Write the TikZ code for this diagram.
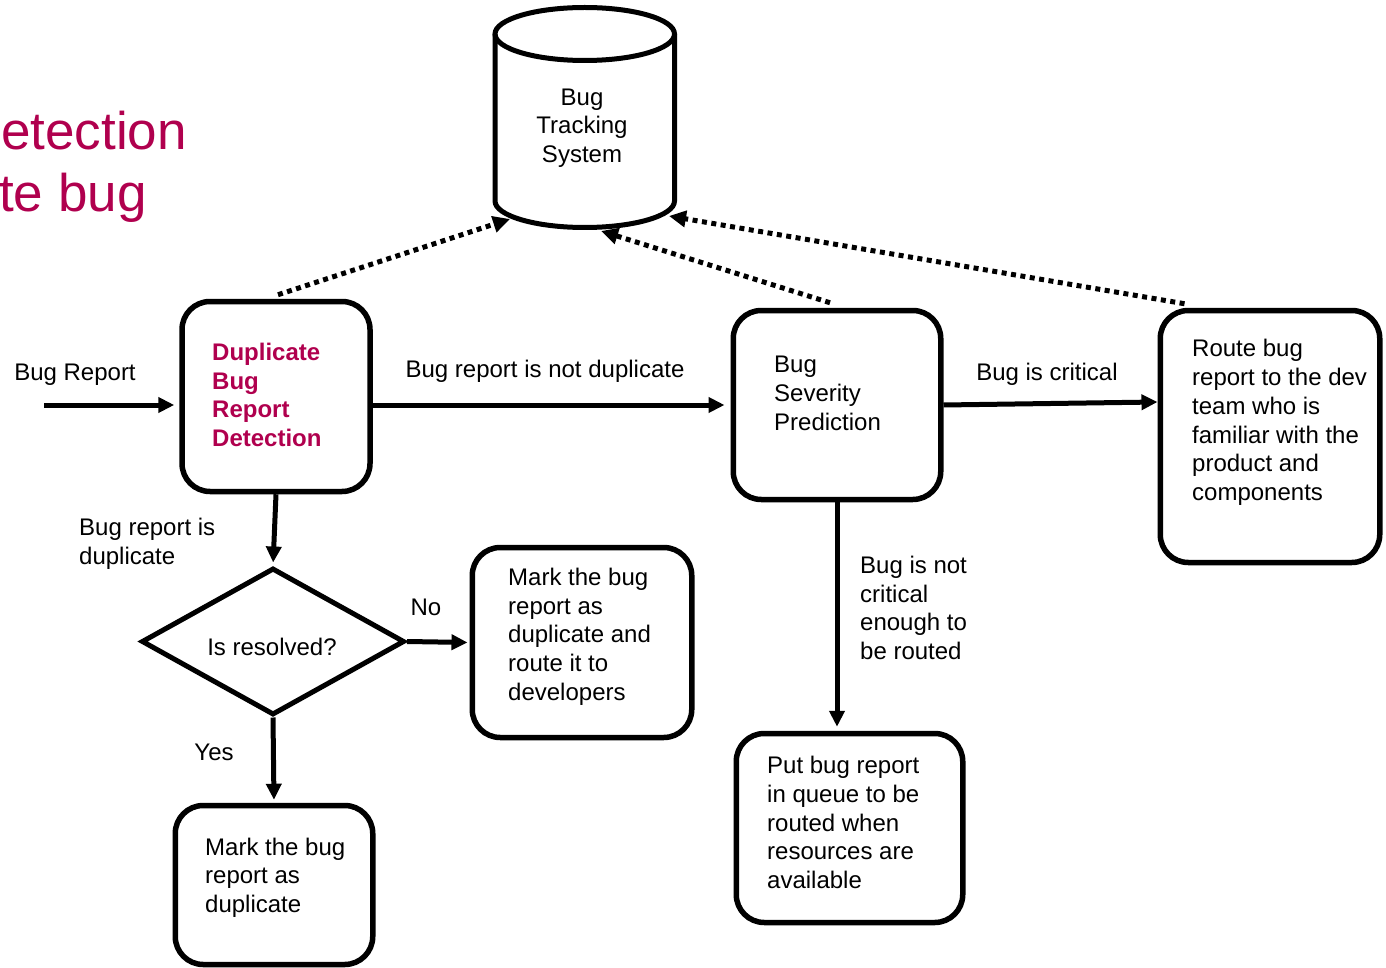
\documentclass[tikz,border=0pt]{standalone}
\usepackage{fontspec}
\setmainfont{Liberation Sans}
\usetikzlibrary{arrows.meta,shapes.geometric,calc}
\definecolor{crimson}{RGB}{176,0,78}
\begin{document}
\begin{tikzpicture}[x=1pt,y=-1pt,
  every node/.style={font=\fontsize{24}{28.7}\selectfont, inner sep=0pt},
  box/.style={draw, line width=5.5pt, rounded corners=28pt},
  decision/.style={draw, diamond, line width=5pt, minimum width=263pt, minimum height=147pt},
  flow/.style={line width=5pt, -{Triangle[length=16pt,width=15pt]}},
  feed/.style={line width=5pt, dash pattern=on 5pt off 4.5pt, -{Triangle[length=17pt,width=16pt]}},
  boxtext/.style={anchor=west, align=left},
  heading/.style={anchor=base west, font=\fontsize{53}{66}\selectfont, text=crimson}]
\useasboundingbox (0,0) rectangle (1386,968);

% heading, cut at the left edge
\node[heading] (head1) at (1,150) {etection};
\node[heading] (head2) at (-1,212) {te bug};

% bug tracking system (cylinder)
\draw[line width=5pt] (495,34) -- (495,201)
  arc[start angle=180, end angle=360, x radius=89.75pt, y radius=26.5pt] -- (674.5,34);
\draw[line width=5pt] (584.75,34) ellipse [x radius=89.75pt, y radius=26.5pt];
\node[align=center] (bts) at (582,128) {Bug\\Tracking\\System};
\coordinate (cyl-a) at (510,219);
\coordinate (cyl-b) at (601,231);
\coordinate (cyl-c) at (669,216);

% process boxes
\node[box, minimum width=188pt, minimum height=190pt] (dbrd) at (276,396.5) {};
\node[boxtext, text=crimson, font=\fontsize{24}{28.7}\selectfont\bfseries] (dbrd-t) at (212,395) {Duplicate\\Bug\\Report\\Detection};

\node[box, minimum width=207.5pt, minimum height=189pt] (bsp) at (837,405) {};
\node[boxtext] (bsp-t) at (774,393.5) {Bug\\Severity\\Prediction};

\node[box, minimum width=219.5pt, minimum height=252pt] (route) at (1270,436.5) {};
\node[boxtext] (route-t) at (1192,422.5) {Route bug\\report to the dev\\team who is\\familiar with the\\product and\\components};

\node[box, minimum width=219.5pt, minimum height=190pt] (mr) at (582,642.5) {};
\node[boxtext] (mr-t) at (508,636.5) {Mark the bug\\report as\\duplicate and\\route it to\\developers};

\node[box, minimum width=226.5pt, minimum height=189pt] (put) at (849.5,828) {};
\node[boxtext] (put-t) at (767,822.5) {Put bug report\\in queue to be\\routed when\\resources are\\available};

\node[box, minimum width=197.5pt, minimum height=159pt] (md) at (274,885) {};
\node[boxtext] (md-t) at (205,877.5) {Mark the bug\\report as\\duplicate};

\node[decision] (dec) at (273,641.5) {};
\node (dec-t) at (272,647) {Is resolved?};

% solid connectors
\coordinate (in) at (44,405);
\draw[flow, shorten >=5pt] (in) -- (in -| dbrd.west);
\draw[flow, shorten >=6pt] (dbrd.east |- bsp.west) -- (bsp.west);
\draw[flow] (bsp.east) -- ($(bsp.east -| route.west)+(0,-3)$);
\draw[flow, shorten >=3pt] (dbrd.south) -- (dec.north);
\draw[flow, shorten >=2pt] (dec.east) -- (mr.west);
\draw[flow, shorten >=3pt] (dec.south) -- (md.north);
\draw[flow, shorten >=4pt] (bsp.south) -- (bsp.south |- put.north);

% dotted feedback connectors to the tracking system
\draw[feed] ($(dbrd.north)+(2,-4)$) -- (cyl-a);
\draw[feed] ($(bsp.north)+(-7,-5)$) -- (cyl-b);
\draw[feed] ($(route.north west)+(27,-4)$) -- (cyl-c);

% connector labels
\node (l-in) at (75,375) {Bug Report};
\node (l-nd) at (545,371) {Bug report is not duplicate};
\node (l-crit) at (1047,374.5) {Bug is critical};
\node[boxtext] (l-dup) at (79,543.5) {Bug report is\\duplicate};
\node (l-no) at (426,607) {No};
\node (l-yes) at (214,752) {Yes};
\node[boxtext] (l-ncrit) at (860,608) {Bug is not\\critical\\enough to\\be routed};
\end{tikzpicture}
\end{document}
